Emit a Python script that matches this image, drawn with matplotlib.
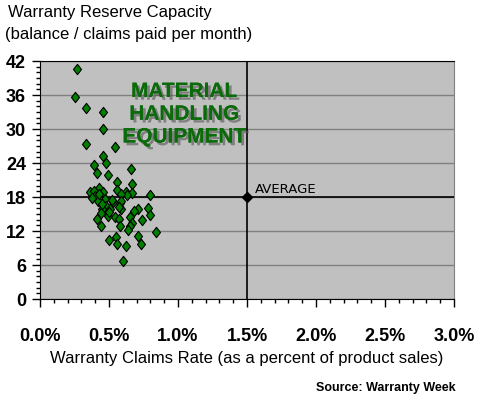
import matplotlib.pyplot as plt
import matplotlib.patheffects as pe
from matplotlib.path import Path
from matplotlib.ticker import MultipleLocator, FuncFormatter

# claims rate (% of sales) and reserve capacity (months)
claims_rate = [0.27, 0.25, 0.33, 0.46, 0.46, 0.33, 0.54, 0.46, 0.48, 0.39,
               0.41, 0.66, 0.49, 0.56, 0.67, 0.43, 0.36, 0.39, 0.46, 0.56,
               0.62, 0.67, 0.80, 0.40, 0.63, 0.59, 0.42, 0.47, 0.53, 0.58,
               0.59, 0.48, 0.51, 0.45, 0.59, 0.57, 0.71, 0.68, 0.78, 0.80,
               0.44, 0.49, 0.41, 0.54, 0.57, 0.65, 0.74, 0.67, 0.44, 0.58,
               0.65, 0.64, 0.84, 0.71, 0.55, 0.50, 0.73, 0.56, 0.62, 0.60,
               0.38, 0.52, 0.45, 0.50, 0.43]
reserve_months = [40.6, 35.7, 33.7, 33.0, 30.0, 27.3, 26.9, 25.3, 24.0, 23.6,
                  22.2, 23.0, 21.9, 20.6, 20.3, 19.6, 18.9, 19.1, 18.9, 19.2,
                  18.8, 18.7, 18.4, 18.2, 18.3, 18.6, 17.3, 17.7, 17.1, 16.9,
                  17.3, 16.4, 15.9, 15.9, 15.8, 16.3, 15.9, 15.6, 16.1, 14.9,
                  15.1, 14.6, 14.2, 14.4, 14.1, 14.4, 14.0, 13.5, 12.9, 12.9,
                  12.8, 12.2, 11.8, 11.1, 10.9, 10.4, 9.7, 9.7, 9.35, 6.75,
                  17.8, 17.5, 16.8, 15.3, 18.5]
avg_rate = 1.5
avg_months = 18

plt.rcParams['font.family'] = ['Liberation Sans', 'DejaVu Sans']

# diamond a little taller than wide, like the Excel marker
diamond = Path([(0, 1), (0.78, 0), (0, -1), (-0.78, 0), (0, 1)],
               [Path.MOVETO, Path.LINETO, Path.LINETO, Path.LINETO, Path.CLOSEPOLY])

fig = plt.figure(figsize=(4.8, 4.0), dpi=100)
ax = fig.add_axes([40 / 480, 1 - 299 / 400, 414 / 480, 238 / 400])
ax.set_facecolor('#c0c0c0')

ax.set_xlim(0, 3.0)
ax.set_ylim(0, 42)
ax.yaxis.set_major_locator(MultipleLocator(6))
ax.yaxis.set_minor_locator(MultipleLocator(1))
ax.xaxis.set_major_locator(MultipleLocator(0.5))
ax.xaxis.set_minor_locator(MultipleLocator(0.1))
ax.xaxis.set_major_formatter(FuncFormatter(lambda v, p: f'{v:.1f}%'))
ax.grid(axis='y', which='major', color='#808080', linewidth=1)
ax.set_axisbelow(True)

ax.spines['right'].set_color('#808080')
for s in ['top', 'left', 'bottom']:
    ax.spines[s].set_color('black')

ax.tick_params(axis='both', which='major', length=6, width=1, direction='out')
ax.tick_params(axis='both', which='minor', length=3, width=1, direction='out')
ax.tick_params(axis='x', pad=15)
ax.tick_params(axis='y', pad=4)
for lab in ax.get_xticklabels() + ax.get_yticklabels():
    lab.set_fontweight('bold')
    lab.set_fontsize(13)

ax.axhline(avg_months, color='black', linewidth=1.2, zorder=2)
ax.axvline(avg_rate, color='black', linewidth=1.2, zorder=2)
ax.plot([avg_rate], [avg_months], marker='D', color='black', markersize=5, zorder=3)
ax.text(avg_rate + 0.06, avg_months + 1.4, 'AVERAGE', fontsize=9.5,
        family=['DejaVu Sans'], color='black', va='center')

ax.scatter(claims_rate, reserve_months, marker=diamond, s=55, c='#007f00',
           edgecolors='black', linewidths=0.8, zorder=4)

ax.text(1.045, 32.6, 'MATERIAL\nHANDLING\nEQUIPMENT', ha='center', va='center',
        fontsize=15, fontweight='bold', color='#0b6b0b', linespacing=1.25,
        path_effects=[pe.withSimplePatchShadow(offset=(2, -2), shadow_rgbFace='#555555', alpha=0.6),
                      pe.Normal()])

ax.set_xlabel('Warranty Claims Rate (as a percent of product sales)', fontsize=12, labelpad=4)

fig.text(8 / 480, 1 - 12 / 400, 'Warranty Reserve Capacity', fontsize=12, va='center')
fig.text(5 / 480, 1 - 34 / 400, '(balance / claims paid per month)', fontsize=12, va='center')
fig.text(456 / 480, 1 - 388 / 400, 'Source: Warranty Week', fontsize=9,
         fontweight='bold', ha='right', va='center')

fig.savefig('out.png', dpi=100)
